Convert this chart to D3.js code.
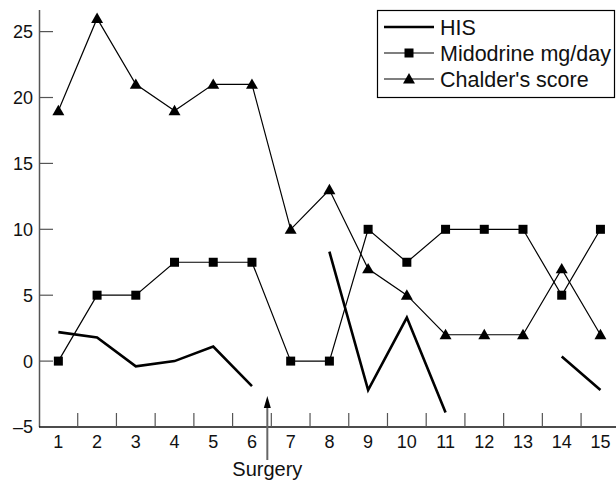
<!DOCTYPE html>
<html><head><meta charset="utf-8">
<script src="https://cdn.jsdelivr.net/npm/d3@7"></script>
<style>body{margin:0;background:#fff}svg{display:block}text{font-family:"Liberation Sans",Arial,sans-serif}</style>
</head><body>
<svg id="c" width="616" height="480"></svg>
<script>
const weeks = [1,2,3,4,5,6,7,8,9,10,11,12,13,14,15];
const his = [2.2,1.8,-0.4,0,1.1,-1.9,null,8.3,-2.2,3.3,-3.9,null,null,0.35,-2.2];
const midodrine = [0,5,5,7.5,7.5,7.5,0,0,10,7.5,10,10,10,5,10];
const chalder = [19,26,21,19,21,21,10,13,7,5,2,2,2,7,2];
const yTicks = [-5,0,5,10,15,20,25];
const seriesNames = ["HIS","Midodrine mg/day","Chalder's score"];
const surgeryLabel = "Surgery";

const svg = d3.select("#c");
const x = d3.scaleBand().domain(weeks).range([39, 619.8]);
const cx = d => x(d) + x.bandwidth()/2;
const y = d3.scaleLinear().domain([-5, 26.64]).range([427, 10]);

// y axis
svg.append("line").attr("x1",39.5).attr("x2",39.5).attr("y1",10).attr("y2",427).attr("stroke","#555").attr("stroke-width",1.5);
const yg = svg.append("g");
yg.selectAll("line").data(yTicks.filter(v=>v>-5)).join("line")
  .attr("x1",39).attr("x2",53).attr("y1",d=>y(d)).attr("y2",d=>y(d)).attr("stroke","#555").attr("stroke-width",1.2);
yg.selectAll("text").data(yTicks).join("text")
  .attr("x",33).attr("y",d=>y(d)).attr("dy","0.36em").attr("text-anchor","end")
  .attr("font-size",18).attr("fill","#111").text(d=>d<0?"\u2013"+Math.abs(d):d);

// x axis
svg.append("line").attr("x1",39).attr("x2",616).attr("y1",427).attr("y2",427).attr("stroke","#111").attr("stroke-width",1.5);
const xg = svg.append("g");
xg.selectAll("line").data(weeks.slice(1)).join("line")
  .attr("x1",d=>x(d)).attr("x2",d=>x(d)).attr("y1",413).attr("y2",427).attr("stroke","#555").attr("stroke-width",1.2);
xg.selectAll("text").data(weeks).join("text")
  .attr("x",d=>cx(d)).attr("y",448).attr("text-anchor","middle")
  .attr("font-size",18).attr("fill","#111").text(d=>d);

// lines
const line = (vals) => d3.line().defined((d,i)=>vals[i]!=null).x((d,i)=>cx(weeks[i])).y((d,i)=>y(vals[i]))(vals);
svg.append("path").attr("d",line(chalder)).attr("fill","none").attr("stroke","#000").attr("stroke-width",1.2);
svg.append("path").attr("d",line(midodrine)).attr("fill","none").attr("stroke","#000").attr("stroke-width",1.2);
svg.append("path").attr("d",line(his)).attr("fill","none").attr("stroke","#000").attr("stroke-width",2.6);

const tri = d3.symbol().type(d3.symbolTriangle).size(62);
svg.append("g").selectAll("path").data(chalder).join("path")
  .attr("d",tri).attr("transform",(d,i)=>`translate(${cx(weeks[i])},${y(d)+1})`).attr("fill","#000");
svg.append("g").selectAll("rect").data(midodrine).join("rect")
  .attr("x",(d,i)=>cx(weeks[i])-4.5).attr("y",d=>y(d)-4.5).attr("width",9).attr("height",9).attr("fill","#000");

// surgery arrow
const sx = x(7) - 4;
svg.append("line").attr("x1",sx).attr("x2",sx).attr("y1",405).attr("y2",460).attr("stroke","#666").attr("stroke-width",2);
svg.append("path").attr("d",`M${sx},396 L${sx-3.5},408 L${sx+3.5},408 Z`).attr("fill","#000");
svg.append("text").attr("x",sx).attr("y",476).attr("text-anchor","middle").attr("font-size",20).attr("fill","#111").text(surgeryLabel);

// legend
const lg = svg.append("g");
lg.append("rect").attr("x",377.5).attr("y",10.5).attr("width",237).attr("height",87).attr("fill","#fff").attr("stroke","#000").attr("stroke-width",1.2);
const rows = [27,53,79];
seriesNames.forEach((n,i)=>{
  lg.append("line").attr("x1",384).attr("x2",434).attr("y1",rows[i]).attr("y2",rows[i]).attr("stroke","#000").attr("stroke-width",i==0?2.6:1.2);
  if(i==1) lg.append("rect").attr("x",404.5).attr("y",rows[i]-4.5).attr("width",9).attr("height",9).attr("fill","#000");
  if(i==2) lg.append("path").attr("d",tri).attr("transform",`translate(409,${rows[i]+1})`).attr("fill","#000");
  lg.append("text").attr("x",440).attr("y",rows[i]).attr("dy","0.36em").attr("font-size",21.5).attr("fill","#111").text(n);
});
</script>
</body></html>
